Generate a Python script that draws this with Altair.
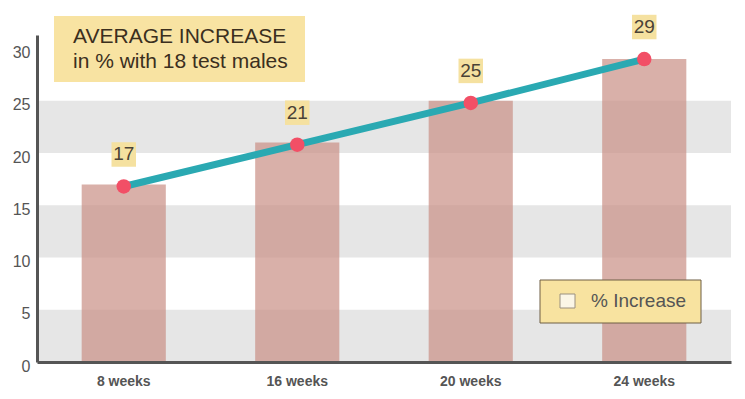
import altair as alt
import pandas as pd

categories = ["8 weeks", "16 weeks", "20 weeks", "24 weeks"]
bar_values = [17, 21, 25, 29]
line_values = [16.8, 20.8, 24.8, 29]
label_values = ["17", "21", "25", "29"]
band_lo = [0, 10, 20]
band_hi = [5, 15, 25]
y_ticks = [0, 5, 10, 15, 20, 25, 30]
title_lines = ["AVERAGE INCREASE", "in % with 18 test males"]
legend_label = "% Increase"

W, H = 694, 327
YMAX = 31.3

df = pd.DataFrame({"cat": categories, "bar": bar_values, "line": line_values, "lab": label_values})
bands = pd.DataFrame({"lo": band_lo, "hi": band_hi})

xenc = alt.X("cat:N", sort=categories, title=None,
             scale=alt.Scale(paddingInner=0.515, paddingOuter=0.2575),
             axis=alt.Axis(labelFont="Liberation Sans", labelFontSize=14, labelFontWeight="bold",
                           labelColor="#555555", labelPadding=12, ticks=False, labelAngle=0,
                           domainColor="#555555", domainWidth=3, grid=False, zindex=1))
yscale = alt.Scale(domain=[0, YMAX], nice=False, zero=True)
yenc = alt.Y("bar:Q", scale=yscale, title=None,
             axis=alt.Axis(values=y_ticks, labelFont="Liberation Sans", labelFontSize=16,
                           labelColor="#555555", labelPadding=7, ticks=False, labelOffset=4,
                           domainColor="#555555", domainWidth=3, grid=False, zindex=1))

band_layer = alt.Chart(bands).mark_rect(color="#e6e6e6").encode(
    x=alt.value(0), x2=alt.value(W),
    y=alt.Y("lo:Q", scale=yscale), y2="hi:Q")

bars = alt.Chart(df).mark_bar(color="#c98f84", opacity=0.7).encode(x=xenc, y=yenc)

line = alt.Chart(df).mark_line(color="#2aa9b2", strokeWidth=7).encode(
    x=alt.X("cat:N", sort=categories), y=alt.Y("line:Q", scale=yscale))

pts = alt.Chart(df).mark_circle(color="#f24f66", opacity=1, size=210).encode(
    x=alt.X("cat:N", sort=categories), y=alt.Y("line:Q", scale=yscale))

lab_box = alt.Chart(df).mark_square(color="#f5e1a0", opacity=1, size=600, yOffset=-32).encode(
    x=alt.X("cat:N", sort=categories), y=alt.Y("line:Q", scale=yscale))

lab_text = alt.Chart(df).mark_text(font="Liberation Sans", fontSize=19, color="#4a4236",
                                   dy=-32, baseline="middle").encode(
    x=alt.X("cat:N", sort=categories), y=alt.Y("line:Q", scale=yscale), text="lab:N")

title_df = pd.DataFrame({"t": title_lines, "yy": [2, 27]})
title_box = alt.Chart(pd.DataFrame({"a": [1]})).mark_rect(color="#f8e3a2").encode(
    x=alt.value(17), x2=alt.value(268), y=alt.value(-19), y2=alt.value(47))
title_text = alt.Chart(title_df).mark_text(font="Liberation Sans", fontSize=21, color="#3b2f1e",
                                           align="left", baseline="middle").encode(
    x=alt.value(36), y=alt.Y("yy:Q", scale=None), text="t:N")

leg_box = alt.Chart(pd.DataFrame({"a": [1]})).mark_rect(color="#f8e3a0", stroke="#6e5f45",
                                                         strokeWidth=1).encode(
    x=alt.value(503), x2=alt.value(664), y=alt.value(245), y2=alt.value(288))
leg_check = alt.Chart(pd.DataFrame({"a": [1]})).mark_rect(color="#fbf6e6", stroke="#9a9080",
                                                           strokeWidth=1).encode(
    x=alt.value(523), x2=alt.value(538), y=alt.value(259), y2=alt.value(273))
leg_text = alt.Chart(pd.DataFrame({"t": [legend_label]})).mark_text(
    font="Liberation Sans", fontSize=19, color="#555555", align="left", baseline="middle").encode(
    x=alt.value(554), y=alt.value(266), text="t:N")

chart = alt.layer(band_layer, bars, line, pts, lab_box, lab_text, title_box, title_text,
                  leg_box, leg_check, leg_text).properties(
    width=W, height=H,
    background="white",
    autosize=alt.AutoSizeParams(type="none"),
    padding={"left": 29, "top": 27, "right": 6, "bottom": 30},
).configure_view(stroke=None, strokeWidth=0)

chart.save("out.html", embed_options={"renderer": "svg", "actions": False})
